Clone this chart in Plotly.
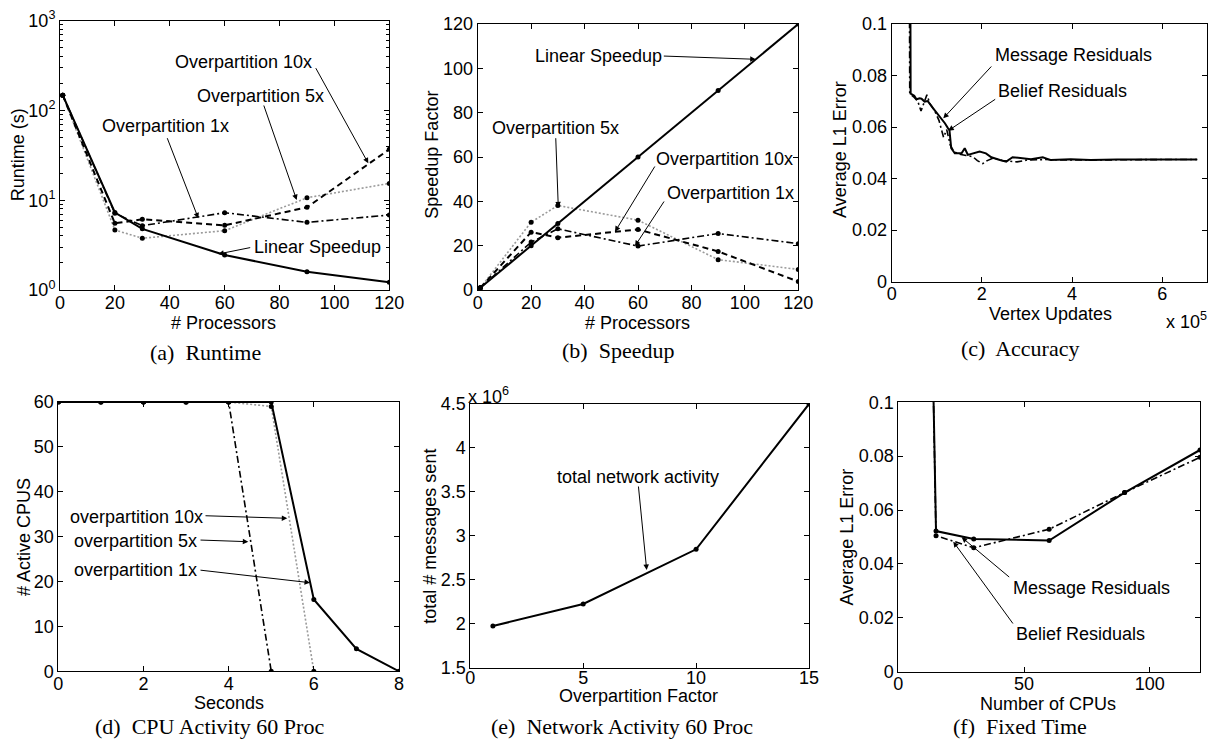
import plotly.graph_objects as go

# ---------------- data ----------------
procs = [1, 20, 30, 60, 90, 120]
runtime_linear = [148, 7.3, 4.8, 2.45, 1.6, 1.22]
runtime_op1 = [148, 7.15, 5.2, 7.26, 5.67, 6.84]
runtime_op5 = [148, 4.66, 3.77, 4.58, 10.66, 15.4]
runtime_op10 = [148, 5.53, 6.13, 5.25, 8.34, 36.9]

speedup_linear = [1, 20, 30, 60, 90, 120]
speedup_op1 = [1, 21.6, 27.6, 19.8, 25.5, 20.9]
speedup_op5 = [1, 30.6, 38.1, 31.5, 13.7, 9.3]
speedup_op10 = [1, 26.1, 23.6, 27.3, 17.4, 3.8]

acc_msg_x = [40000, 42000, 50000, 55000, 62000, 66000, 73000, 80000, 92000, 107000, 118000,
             125000, 128000, 132000, 140000, 155000, 162000, 169000, 180000, 195000, 209000,
             221000, 240000, 254000, 268000, 287000, 309000, 335000, 353000, 397000, 441000,
             500000, 574000, 677000]
acc_msg_y = [0.2, 0.073, 0.0722, 0.0708, 0.0712, 0.0710, 0.0699, 0.0701, 0.0673, 0.064, 0.0615,
             0.0595, 0.0590, 0.0518, 0.0498, 0.0498, 0.0518, 0.0492, 0.0498, 0.0505, 0.0498,
             0.0483, 0.0472, 0.0466, 0.0483, 0.0479, 0.0475, 0.0483, 0.0472, 0.0475, 0.0472,
             0.0474, 0.0474, 0.0474]
acc_bel_x = [38000, 40000, 50000, 58000, 65000, 72000, 78000, 85000, 95000, 105000, 112000,
             115000, 122000, 130000, 138000, 150000, 165000, 180000, 190000, 202000, 212000,
             225000, 245000, 262000, 278000, 300000, 340000, 400000, 500000, 600000, 678000]
acc_bel_y = [0.2, 0.073, 0.0715, 0.0700, 0.0662, 0.0700, 0.0725, 0.0690, 0.0665, 0.0625, 0.0575,
             0.0560, 0.0590, 0.0530, 0.0505, 0.0495, 0.0490, 0.0485, 0.0470, 0.0458, 0.0470,
             0.0480, 0.0470, 0.0468, 0.0465, 0.0472, 0.0474, 0.0472, 0.0474, 0.0474, 0.0474]

seconds = [0, 1, 2, 3, 4, 5, 6, 7, 8]
cpu_op1 = [60, 60, 60, 60, 60, 60, 16, 5, 0]
cpu_op5 = [60, 60, 60, 60, 60, 0]
cpu_op10 = [60, 60, 60, 60, 60, 59, 0]

op_factor = [1, 5, 10, 15]
messages_sent = [1.974e6, 2.225e6, 2.847e6, 4.5e6]

cpus = [1, 15, 30, 60, 90, 120]
fixed_msg = [0.75, 0.0522, 0.0493, 0.0487, 0.0665, 0.0823]
fixed_bel = [0.75, 0.0505, 0.0460, 0.0529, 0.0665, 0.0796]

# ---------------- layout helpers ----------------
W, H = 1218, 746
SANS = "Liberation Sans, Arial, Helvetica, sans-serif"
SERIF = "Liberation Serif, Times New Roman, serif"
GRAY = "#9a9a9a"


def px_x(x):
    return x / W


def px_y(y):
    return 1 - y / H


boxes = {  # left, top, right, bottom in pixels
    1: (60, 20.7, 389.3, 290),
    2: (477.7, 24, 798.3, 290),
    3: (891.7, 24, 1207.3, 281.7),
    4: (58.3, 402, 399, 671.3),
    5: (470.3, 404, 809, 667.7),
    6: (898.3, 402.3, 1200, 671.7),
}
x_label_shift = {1: -4, 2: -4, 3: -4, 4: -4, 5: -6, 6: -4}


def axstyle(**kw):
    d = dict(showline=True, linecolor="black", linewidth=1, mirror="ticks",
             ticks="inside", ticklen=5, tickcolor="black", tickwidth=1,
             showgrid=False, zeroline=False, automargin=False, fixedrange=True,
             tickfont=dict(family=SANS, size=18, color="black"))
    d.update(kw)
    return d


fig = go.Figure()

SOLID = dict(color="black", width=2)
DASH = dict(color="black", width=2, dash="6px,4px")
DASHDOT = dict(color="black", width=1.6, dash="7px,3px,2px,3px")
DOT = dict(color=GRAY, width=1.6, dash="2px,2px")
MK = dict(color="black", size=5)


def add(i, x, y, line, markers=True):
    fig.add_trace(go.Scatter(
        x=x, y=y, mode="lines+markers" if markers else "lines",
        line=line, marker=MK, showlegend=False, hoverinfo="skip",
        xaxis="x" if i == 1 else f"x{i}", yaxis="y" if i == 1 else f"y{i}"))


# (a) runtime
add(1, procs, runtime_op5, DOT)
add(1, procs, runtime_op1, DASHDOT)
add(1, procs, runtime_op10, DASH)
add(1, procs, runtime_linear, SOLID)
# (b) speedup
add(2, procs, speedup_op5, DOT)
add(2, procs, speedup_op1, DASHDOT)
add(2, procs, speedup_op10, DASH)
add(2, procs, speedup_linear, SOLID)
# (c) accuracy
add(3, acc_bel_x, acc_bel_y, DASHDOT, markers=False)
add(3, acc_msg_x, acc_msg_y, SOLID, markers=False)
# (d) cpu activity
add(4, seconds[:len(cpu_op10)], cpu_op10, DOT)
add(4, seconds[:len(cpu_op5)], cpu_op5, DASHDOT)
add(4, seconds, cpu_op1, SOLID)
# (e) network
add(5, op_factor, messages_sent, SOLID)
# (f) fixed time
add(6, cpus, fixed_bel, DASHDOT)
add(6, cpus, fixed_msg, SOLID)

layout = dict(width=W, height=H, margin=dict(l=0, r=0, t=0, b=0),
              paper_bgcolor="white", plot_bgcolor="white", showlegend=False)

minor_log = [m * 10 ** k for k in range(0, 3) for m in range(2, 10)]
axes_x = {
    1: dict(range=[0, 120], tickvals=[0, 20, 40, 60, 80, 100, 120]),
    2: dict(range=[0, 120], tickvals=[0, 20, 40, 60, 80, 100, 120]),
    3: dict(range=[0, 700000], tickvals=[0, 200000, 400000, 600000], ticktext=["0", "2", "4", "6"]),
    4: dict(range=[0, 8], tickvals=[0, 2, 4, 6, 8]),
    5: dict(range=[0, 15], tickvals=[0, 5, 10, 15]),
    6: dict(range=[0, 120], tickvals=[0, 50, 100]),
}
axes_y = {
    1: dict(type="log", range=[0, 3], tickvals=[1, 10, 100, 1000],
            ticktext=["10<sup>0</sup>", "10<sup>1</sup>", "10<sup>2</sup>", "10<sup>3</sup>"],
            minor=dict(ticks="inside", ticklen=3, tickcolor="black", tickvals=minor_log, showgrid=False)),
    2: dict(range=[0, 120], tickvals=[0, 20, 40, 60, 80, 100, 120]),
    3: dict(range=[0, 0.1], tickvals=[0, 0.02, 0.04, 0.06, 0.08, 0.1],
            ticktext=["0", "0.02", "0.04", "0.06", "0.08", "0.1"]),
    4: dict(range=[0, 60], tickvals=[0, 10, 20, 30, 40, 50, 60]),
    5: dict(range=[1.5e6, 4.5e6], tickvals=[1.5e6, 2e6, 2.5e6, 3e6, 3.5e6, 4e6, 4.5e6],
            ticktext=["1.5", "2", "2.5", "3", "3.5", "4", "4.5"]),
    6: dict(range=[0, 0.1], tickvals=[0, 0.02, 0.04, 0.06, 0.08, 0.1],
            ticktext=["0", "0.02", "0.04", "0.06", "0.08", "0.1"]),
}
for i, (l, t, r, b) in boxes.items():
    xn = "xaxis" if i == 1 else f"xaxis{i}"
    yn = "yaxis" if i == 1 else f"yaxis{i}"
    xa = "x" if i == 1 else f"x{i}"
    ya = "y" if i == 1 else f"y{i}"
    layout[xn] = axstyle(domain=[px_x(l), px_x(r)], anchor=ya,
                         ticklabelstandoff=x_label_shift[i], **axes_x[i])
    layout[yn] = axstyle(domain=[px_y(b), px_y(t)], anchor=xa, ticklabelstandoff=0, **axes_y[i])

annotations = []


def text(x, y, s, size=18, family=SANS, angle=0):
    annotations.append(dict(xref="paper", yref="paper", x=px_x(x), y=px_y(y), text=s,
                            showarrow=False, xanchor="center", yanchor="middle", textangle=angle,
                            font=dict(family=family, size=size, color="black")))


def arrow(tx, ty, hx, hy):
    annotations.append(dict(xref="paper", yref="paper", x=px_x(hx), y=px_y(hy), text="",
                            showarrow=True, axref="pixel", ayref="pixel",
                            ax=tx - hx, ay=ty - hy, arrowhead=2, arrowsize=1.1,
                            arrowwidth=1, arrowcolor="black", standoff=0, startstandoff=0))


# axis titles
text(223.3, 322.5, "# Processors")
text(18.3, 155, "Runtime (s)", angle=-90)
text(637.3, 322.5, "# Processors")
text(431.7, 155, "Speedup Factor", angle=-90)
text(1050, 313.5, "Vertex Updates")
text(840, 150, "Average L1 Error", angle=-90)
text(1186.7, 320, "x 10<sup>5</sup>")
text(229, 703, "Seconds")
text(23.3, 536.7, "# Active CPUS", angle=-90)
text(638.3, 696, "Overpartition Factor")
text(430, 536.7, "total # messages sent", angle=-90)
text(488, 395, "x 10<sup>6</sup>")
text(1048.3, 703.5, "Number of CPUs")
text(846.7, 536.7, "Average L1 Error", angle=-90)

# captions
SZ = 22
text(205.7, 352, "(a)  Runtime", size=SZ, family=SERIF)
text(617.7, 350, "(b)  Speedup", size=SZ, family=SERIF)
text(1020, 348, "(c)  Accuracy", size=SZ, family=SERIF)
text(209.3, 726, "(d)  CPU Activity 60 Proc", size=SZ, family=SERIF)
text(621.7, 726, "(e)  Network Activity 60 Proc", size=SZ, family=SERIF)
text(1020.3, 726, "(f)  Fixed Time", size=SZ, family=SERIF)

# (a) labels
text(243.7, 61.7, "Overpartition 10x")
arrow(315, 66.7, 368.3, 163.3)
text(260.7, 95.7, "Overpartition 5x")
arrow(263.3, 104, 296.7, 200)
text(165, 126, "Overpartition 1x")
arrow(166.7, 136.7, 198.3, 218.3)
text(317, 246.7, "Linear Speedup")
arrow(251.7, 247.3, 218.3, 254)
# (b) labels
text(598.3, 55.7, "Linear Speedup")
arrow(662.3, 56, 755.7, 59.3)
text(555.3, 127.7, "Overpartition 5x")
arrow(555.7, 136.7, 558.3, 207.3)
text(724.3, 159.3, "Overpartition 10x")
arrow(655.7, 165, 615, 231.7)
text(730, 192.7, "Overpartition 1x")
arrow(665, 200, 635, 246)
# (c) labels
text(1073, 55, "Message Residuals")
arrow(992.7, 65, 943.3, 118.3)
text(1062.3, 90.7, "Belief Residuals")
arrow(996.7, 98.3, 948.3, 130.7)
# (d) labels
text(136, 516.7, "overpartition 10x")
arrow(204, 515.7, 287.3, 518.3)
text(135.7, 540.7, "overpartition 5x")
arrow(199, 540, 248.3, 541.7)
text(135.7, 570, "overpartition 1x")
arrow(199, 570, 310, 582.7)
# (e) labels
text(637.7, 477.3, "total network activity")
arrow(638.3, 485, 646.7, 570)
# (f) labels
text(1091, 588.3, "Message Residuals")
arrow(1010.7, 578.3, 961.7, 537.3)
text(1080.3, 634.3, "Belief Residuals")
arrow(1014, 625, 953.3, 541.7)

layout["annotations"] = annotations
fig.update_layout(**layout)

fig.write_html("out.html", config={"displayModeBar": False},
               post_script="document.body.style.margin='0';")
